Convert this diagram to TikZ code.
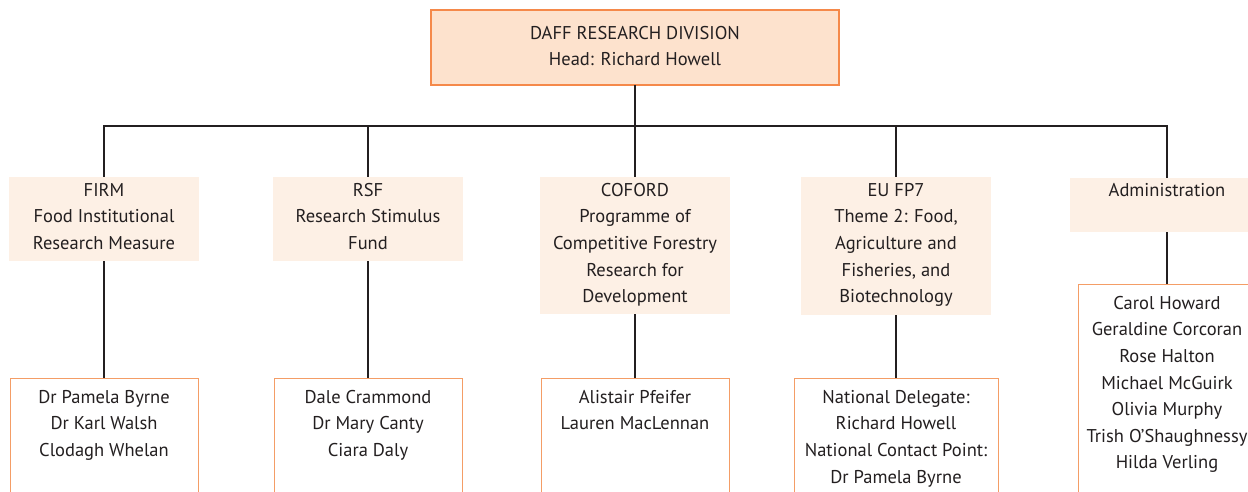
\documentclass[tikz,border=0pt]{standalone}
\usepackage{fontspec}
\setmainfont{PT Sans}
\definecolor{inkdark}{HTML}{231F20}
\definecolor{headfill}{HTML}{FDE2CD}
\definecolor{headline}{HTML}{F5894A}
\definecolor{unitfill}{HTML}{FDF0E5}
\definecolor{staffline}{HTML}{F49D66}
\begin{document}
\begin{tikzpicture}[x=1pt,y=-1pt,
  headbox/.style={draw=headline, line width=2pt, fill=headfill, inner sep=0pt, outer sep=0pt, anchor=north},
  unitbox/.style={fill=unitfill, inner sep=0pt, outer sep=0pt, anchor=north, minimum width=190pt},
  staffbox/.style={draw=staffline, line width=1pt, fill=white, inner sep=0pt, outer sep=0pt, anchor=north, minimum height=130pt},
  txt/.style={anchor=north, inner sep=0pt, align=center, text=inkdark,
    font=\fontsize{18.5}{26.6}\selectfont},
  conn/.style={draw=inkdark, line width=2pt, line join=miter, line cap=butt}
]
\useasboundingbox (0,0) rectangle (1248,492);
\clip (0,0) rectangle (1248,492);

% division head
\node[headbox, minimum width=408pt, minimum height=75pt] (head) at (635,10) {};
\node[txt] (headtxt) at (head.north) {\rule{0pt}{29pt}DAFF RESEARCH DIVISION\\Head: Richard Howell};

% funding units
\node[unitbox, minimum height=84pt] (firm) at (104,177) {};
\node[unitbox, minimum height=84pt] (rsf) at (368,177) {};
\node[unitbox, minimum height=137pt] (coford) at (635,177) {};
\node[unitbox, minimum height=138pt] (eufp) at (896,177) {};
\node[unitbox, minimum width=194pt, minimum height=54pt] (admin) at (1167,178) {};

\node[txt] (firmtxt) at (firm.north) {\rule{0pt}{19pt}FIRM\\Food Institutional\\Research Measure};
\node[txt] (rsftxt) at (rsf.north) {\rule{0pt}{19pt}RSF\\Research Stimulus\\Fund};
\node[txt] (cofordtxt) at (coford.north) {\rule{0pt}{19pt}COFORD\\Programme of\\Competitive Forestry\\Research for\\Development};
\node[txt] (eufptxt) at (eufp.north) {\rule{0pt}{19pt}EU FP7\\Theme 2: Food,\\Agriculture and\\Fisheries, and\\Biotechnology};
\node[txt] (admintxt) at (admin.north) {\rule{0pt}{18.7pt}Administration};

% staff boxes
\node[staffbox, minimum width=188pt] (firmstaff) at (104,378) {};
\node[staffbox, minimum width=188pt] (rsfstaff) at (368,378) {};
\node[staffbox, minimum width=188pt] (cofordstaff) at (635,378) {};
\node[staffbox, minimum width=204pt] (eufpstaff) at (896,378) {};
\node[staffbox, minimum width=178pt, minimum height=230pt] (adminstaff) at (1167,284) {};

\node[txt] at (firmstaff.north) {\rule{0pt}{25pt}Dr Pamela Byrne\\Dr Karl Walsh\\Clodagh Whelan};
\node[txt] at (rsfstaff.north) {\rule{0pt}{25pt}Dale Crammond\\Dr Mary Canty\\Ciara Daly};
\node[txt] at (cofordstaff.north) {\rule{0pt}{25pt}Alistair Pfeifer\\Lauren MacLennan};
\node[txt] at (eufpstaff.north) {\rule{0pt}{25pt}National Delegate:\\Richard Howell\\National Contact Point:\\Dr Pamela Byrne};
\node[txt] at (adminstaff.north) {\rule{0pt}{25pt}Carol Howard\\Geraldine Corcoran\\Rose Halton\\Michael McGuirk\\Olivia Murphy\\Trish O’Shaughnessy\\Hilda Verling};

% connectors
\coordinate (bus) at (635,126);
\draw[conn] (head.south) -- (bus);
\draw[conn] (firm.north) -- (firm.north |- bus) -- (admin.north |- bus) -- (admin.north);
\draw[conn] (rsf.north) -- (rsf.north |- bus);
\draw[conn] (coford.north) -- (coford.north |- bus);
\draw[conn] (eufp.north) -- (eufp.north |- bus);
\draw[conn] (firm.south) -- (firmstaff.north);
\draw[conn] (rsf.south) -- (rsfstaff.north);
\draw[conn] (coford.south) -- (cofordstaff.north);
\draw[conn] (eufp.south) -- (eufpstaff.north);
\draw[conn] (admin.south) -- (adminstaff.north);
\end{tikzpicture}
\end{document}
